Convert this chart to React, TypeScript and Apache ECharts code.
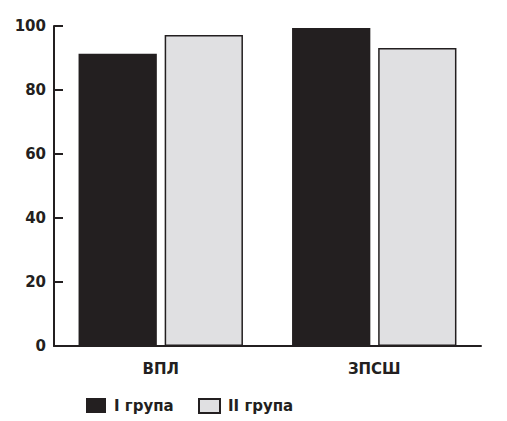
import React, { useEffect, useRef } from "react";
import * as echarts from "echarts";

const categories = ["ВПЛ", "ЗПСШ"];
const group1 = [91.3, 99.4];
const group2 = [97.2, 93.1];
const seriesNames = ["I група", "II група"];

export default function App() {
  const ref = useRef<HTMLDivElement>(null);
  useEffect(() => {
    const chart = echarts.init(ref.current!, null, { renderer: "svg" });
    const font = "'DejaVu Sans', Arial, sans-serif";
    const legendText = { fontFamily: font, fontWeight: "bold", fontSize: 15, color: "#231f20", padding: [0, 0, 0, 3] };
    chart.setOption({
      animation: false,
      backgroundColor: "#ffffff",
      grid: { left: 54, right: 26, top: 26, bottom: 75 },
      legend: [
        {
          left: 81,
          top: 393,
          icon: "rect",
          itemWidth: 20,
          itemHeight: 15,
          textStyle: legendText,
          data: [seriesNames[0]],
        },
        {
          left: 193,
          top: 393,
          icon: "rect",
          itemWidth: 21,
          itemHeight: 14,
          textStyle: legendText,
          data: [seriesNames[1]],
        },
      ],
      xAxis: {
        type: "category",
        data: categories,
        axisLine: { lineStyle: { color: "#231f20", width: 2 } },
        axisTick: { inside: true, length: 9, lineStyle: { color: "#231f20", width: 2 } },
        axisLabel: { fontFamily: font, fontWeight: "bold", fontSize: 15, color: "#231f20", margin: 15 },
      },
      yAxis: {
        type: "value",
        min: 0,
        max: 100,
        interval: 20,
        splitLine: { show: false },
        axisLine: { show: true, lineStyle: { color: "#231f20", width: 2 } },
        axisTick: { show: true, inside: true, length: 9, lineStyle: { color: "#231f20", width: 2 } },
        axisLabel: { fontFamily: font, fontWeight: "bold", fontSize: 15, color: "#231f20", margin: 8 },
      },
      series: [
        {
          name: seriesNames[0],
          type: "bar",
          data: group1,
          barGap: "10%",
          barCategoryGap: "23%",
          itemStyle: { color: "#231f20" },
        },
        {
          name: seriesNames[1],
          type: "bar",
          data: group2,
          itemStyle: { color: "#e0e0e2", borderColor: "#231f20", borderWidth: 1.5 },
        },
      ],
    });
    return () => chart.dispose();
  }, []);
  return <div ref={ref} style={{ width: 507, height: 421, position: "absolute", left: 0, top: 0 }} />;
}
